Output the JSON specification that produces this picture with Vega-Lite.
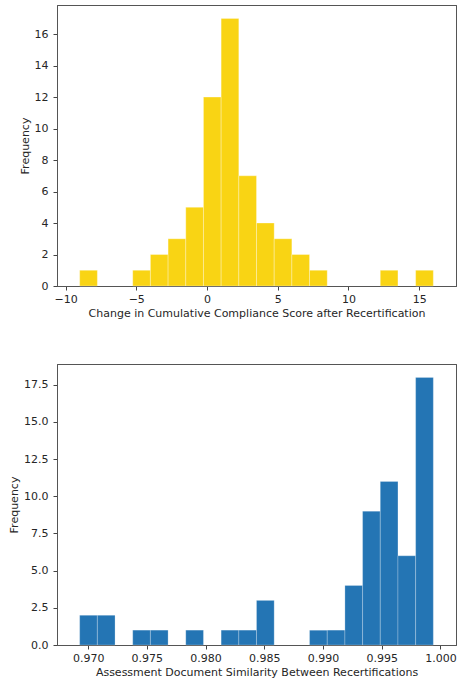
{
  "$schema": "https://vega.github.io/schema/vega-lite/v6.json",
  "padding": {"left": 8, "top": 4, "right": 0, "bottom": 0},
  "spacing": 44,
  "config": {
    "font": "DejaVu Sans",
    "view": {"stroke": "#555555", "strokeWidth": 1},
    "style": {"cell": {"stroke": "#555555", "strokeWidth": 1}},
    "axis": {
      "domain": true,
      "domainColor": "#555555",
      "domainWidth": 1,
      "grid": false,
      "tickColor": "#444444",
      "tickSize": 4,
      "tickWidth": 1,
      "labelFontSize": 11,
      "labelColor": "#262626",
      "labelPadding": 3,
      "titleFontSize": 11,
      "titleFontWeight": "normal",
      "titleColor": "#262626",
      "titlePadding": 3
    },
    "axisY": {"labelPadding": 5, "titlePadding": 4}
  },
  "datasets": {
    "top": [
      {"start": -9.0, "end": -7.75, "count": 1},
      {"start": -5.25, "end": -4.0, "count": 1},
      {"start": -4.0, "end": -2.75, "count": 2},
      {"start": -2.75, "end": -1.5, "count": 3},
      {"start": -1.5, "end": -0.25, "count": 5},
      {"start": -0.25, "end": 1.0, "count": 12},
      {"start": 1.0, "end": 2.25, "count": 17},
      {"start": 2.25, "end": 3.5, "count": 7},
      {"start": 3.5, "end": 4.75, "count": 4},
      {"start": 4.75, "end": 6.0, "count": 3},
      {"start": 6.0, "end": 7.25, "count": 2},
      {"start": 7.25, "end": 8.5, "count": 1},
      {"start": 12.25, "end": 13.5, "count": 1},
      {"start": 14.75, "end": 16.0, "count": 1}
    ],
    "bottom": [
      {"start": 0.96928, "end": 0.9707855, "count": 2},
      {"start": 0.9707855, "end": 0.972291, "count": 2},
      {"start": 0.9737965, "end": 0.975302, "count": 1},
      {"start": 0.975302, "end": 0.9768075, "count": 1},
      {"start": 0.978313, "end": 0.9798185, "count": 1},
      {"start": 0.981324, "end": 0.9828295, "count": 1},
      {"start": 0.9828295, "end": 0.984335, "count": 1},
      {"start": 0.984335, "end": 0.9858405, "count": 3},
      {"start": 0.9888515, "end": 0.990357, "count": 1},
      {"start": 0.990357, "end": 0.9918625, "count": 1},
      {"start": 0.9918625, "end": 0.993368, "count": 4},
      {"start": 0.993368, "end": 0.9948735, "count": 9},
      {"start": 0.9948735, "end": 0.996379, "count": 11},
      {"start": 0.996379, "end": 0.9978845, "count": 6},
      {"start": 0.9978845, "end": 0.99939, "count": 18}
    ]
  },
  "vconcat": [
    {
      "width": 399,
      "height": 281,
      "data": {"name": "top"},
      "resolve": {"axis": {"x": "independent", "y": "independent"}},
      "layer": [
        {
          "mark": {"type": "bar", "orient": "vertical", "color": "#F9D414", "stroke": "#ffffff", "strokeWidth": 0.6, "strokeOpacity": 0.5},
          "encoding": {
            "x": {
              "field": "start",
              "type": "quantitative",
              "scale": {"domain": [-10.25, 17.25], "nice": false, "zero": false},
              "axis": {"values": [-10, -5, 0, 5, 10, 15], "format": "d", "title": "Change in Cumulative Compliance Score after Recertification"}
            },
            "x2": {"field": "end"},
            "y": {
              "field": "count",
              "type": "quantitative",
              "scale": {"domain": [0, 17.85], "nice": false},
              "axis": {"values": [0, 2, 4, 6, 8, 10, 12, 14, 16], "format": "d", "title": "Frequency"}
            },
            "y2": {"datum": 0}
          }
        },
        {
          "mark": {"type": "bar", "orient": "vertical", "opacity": 0},
          "encoding": {
            "x": {
              "field": "start",
              "type": "quantitative",
              "axis": {"orient": "top", "labels": false, "ticks": false, "title": null, "values": []}
            },
            "x2": {"field": "end"},
            "y": {
              "field": "count",
              "type": "quantitative",
              "axis": {"orient": "right", "labels": false, "ticks": false, "title": null, "values": []}
            },
            "y2": {"datum": 0}
          }
        }
      ]
    },
    {
      "width": 399,
      "height": 281,
      "data": {"name": "bottom"},
      "resolve": {"axis": {"x": "independent", "y": "independent"}},
      "layer": [
        {
          "mark": {"type": "bar", "orient": "vertical", "color": "#2475B4", "stroke": "#ffffff", "strokeWidth": 0.6, "strokeOpacity": 0.4},
          "encoding": {
            "x": {
              "field": "start",
              "type": "quantitative",
              "scale": {"domain": [0.967775, 1.000895], "nice": false, "zero": false},
              "axis": {"values": [0.97, 0.975, 0.98, 0.985, 0.99, 0.995, 1.0], "format": ".3f", "title": "Assessment Document Similarity Between Recertifications"}
            },
            "x2": {"field": "end"},
            "y": {
              "field": "count",
              "type": "quantitative",
              "scale": {"domain": [0, 18.9], "nice": false},
              "axis": {"values": [0, 2.5, 5, 7.5, 10, 12.5, 15, 17.5], "format": ".1f", "title": "Frequency"}
            },
            "y2": {"datum": 0}
          }
        },
        {
          "mark": {"type": "bar", "orient": "vertical", "opacity": 0},
          "encoding": {
            "x": {
              "field": "start",
              "type": "quantitative",
              "axis": {"orient": "top", "labels": false, "ticks": false, "title": null, "values": []}
            },
            "x2": {"field": "end"},
            "y": {
              "field": "count",
              "type": "quantitative",
              "axis": {"orient": "right", "labels": false, "ticks": false, "title": null, "values": []}
            },
            "y2": {"datum": 0}
          }
        }
      ]
    }
  ]
}
